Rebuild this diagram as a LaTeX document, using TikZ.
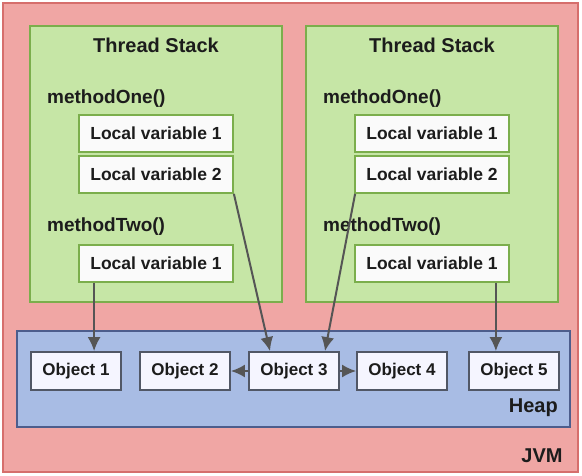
\documentclass[tikz,border=0pt]{standalone}
\usepackage{fontspec}
\setmainfont{Liberation Sans}
\usepackage{tikz}
\usetikzlibrary{arrows.meta}

\definecolor{jvmfill}{HTML}{F0A6A4}
\definecolor{jvmline}{HTML}{D66E6C}
\definecolor{stackfill}{HTML}{C6E6A6}
\definecolor{stackline}{HTML}{7BAE4C}
\definecolor{heapfill}{HTML}{A8BCE4}
\definecolor{heapline}{HTML}{4D5D8C}
\definecolor{objline}{HTML}{515766}
\definecolor{refline}{HTML}{555555}
\definecolor{inktext}{HTML}{1C1C1C}

\tikzset{
  stackbox/.style={draw=stackline, fill=stackfill, line width=2pt, minimum width=252pt, minimum height=276pt},
  varbox/.style={draw=stackline, fill=white!96!gray, line width=1.8pt, minimum width=154pt, minimum height=37pt, font=\fontsize{17.5}{20}\selectfont\bfseries, text=inktext},
  objbox/.style={draw=objline, fill=white!96!blue, line width=1.8pt, minimum width=90pt, minimum height=38pt, font=\fontsize{17}{20}\selectfont\bfseries, text=inktext},
  lbl/.style={font=\fontsize{19}{22}\selectfont\bfseries, text=inktext, inner sep=0pt},
  ref/.style={draw=refline, line width=2pt, -{Latex[length=14pt,width=13pt]}}
}

\begin{document}
\begin{tikzpicture}[x=1pt, y=-1pt]
    \useasboundingbox (0,0) rectangle (582,475);
    % JVM
    \draw [draw=jvmline, fill=jvmfill, line width=1.6pt] (3,3) rectangle (578,472);
    \node [lbl, font=\fontsize{20}{22}\selectfont\bfseries] (jvm) at (542,456) {JVM};

    % thread stacks
    \foreach \s/\x in {l/156, r/432}{
      \node [stackbox] (\s stack) at (\x,164) {};
      \node [lbl, font=\fontsize{20}{22}\selectfont\bfseries] (\s title) at (\x,45) {Thread Stack};
      \node [lbl, anchor=west] (\s one) at (\x-109,99) {methodOne()};
      \node [lbl, anchor=west] (\s two) at (\x-109,227) {methodTwo()};
      \node [varbox] (\s1) at (\x,133.5) {Local variable 1};
      \node [varbox] (\s2) at (\x,174.5) {Local variable 2};
      \node [varbox] (\s3) at (\x,263.5) {Local variable 1};
    }

    % heap
    \node [draw=heapline, fill=heapfill, line width=1.8pt, minimum width=553pt, minimum height=96pt] (heap) at (293.5,379) {};
    \node [lbl, font=\fontsize{20}{22}\selectfont\bfseries, anchor=east] (heaplbl) at (558,408) {Heap};
    \foreach \n/\x in {1/76, 2/185, 3/294, 4/402, 5/514}{
      \node [objbox] (o\n) at (\x,371) {Object \n};
    }

    % references
    \draw [ref] ([xshift=16pt]l3.south west) -- ([xshift=16pt]l3.south west |- o1.north);
    \draw [ref] (l2.south east) -- ([xshift=-24pt]o3.north);
    \draw [ref] ([xshift=1pt]r2.south west) -- ([xshift=31pt]o3.north);
    \draw [ref] ([xshift=-14pt]r3.south east) -- ([xshift=-14pt]r3.south east |- o5.north);
    \draw [ref] (o3) -- (o2);
    \draw [ref] (o3) -- (o4);

  \end{tikzpicture}
\end{document}
